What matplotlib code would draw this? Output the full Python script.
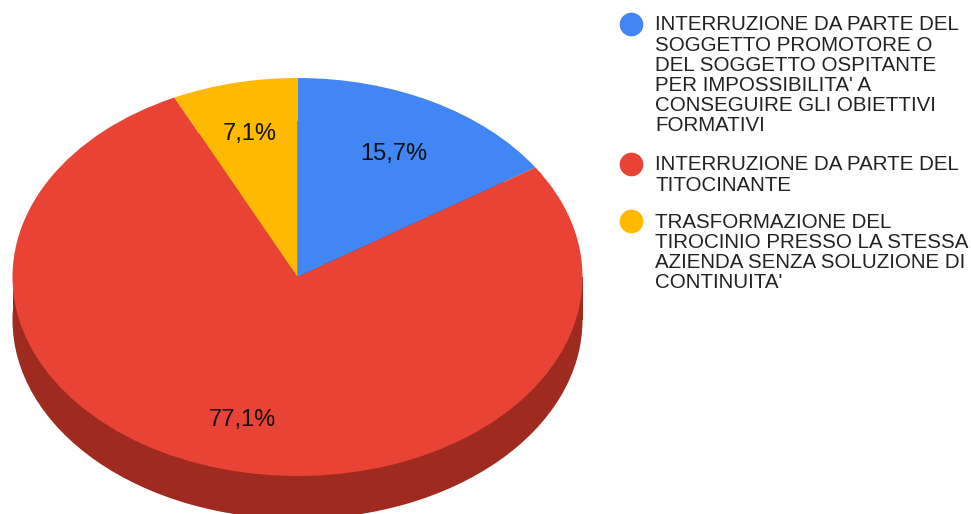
import matplotlib
matplotlib.use("Agg")
import matplotlib.pyplot as plt
from matplotlib.patches import Rectangle

plt.rcParams['font.family'] = ['Liberation Sans', 'DejaVu Sans']

values = [15.7, 77.1, 7.1]
pct_labels = ["15,7%", "77,1%", "7,1%"]
legend_labels = [
    "INTERRUZIONE DA PARTE DEL\nSOGGETTO PROMOTORE O\nDEL SOGGETTO OSPITANTE\nPER IMPOSSIBILITA' A\nCONSEGUIRE GLI OBIETTIVI\nFORMATIVI",
    "INTERRUZIONE DA PARTE DEL\nTITOCINANTE",
    "TRASFORMAZIONE DEL\nTIROCINIO PRESSO LA STESSA\nAZIENDA SENZA SOLUZIONE DI\nCONTINUITA'",
]
colors = ["#4285F4", "#E94335", "#FFB900"]
side_color = "#9E2A20"

W, H = 971, 514
fig = plt.figure(figsize=(W / 100, H / 100), dpi=100, facecolor="white")

# pie ellipse in pixels: x 12.5-582.5, y 78-476
left, right, top, bottom = 12.5, 582.5, 78, 476
depth = 43 / ((bottom - top) / 2)
ax = fig.add_axes([left / W, 1 - bottom / H, (right - left) / W, (bottom - top) / H])

# 3D side: dark ellipse lower down plus a band up to the top face
ax.pie([1], radius=1, center=(0, -depth), colors=[side_color])
ax.add_patch(Rectangle((-1, -depth), 2, depth, color=side_color, lw=0))
wedges, _ = ax.pie(values, radius=1, startangle=90, counterclock=False, colors=colors)
ax.set_aspect("auto")
ax.set_xlim(-1, 1)
ax.set_ylim(-1, 1)
for p in ax.patches:
    p.set_clip_on(False)

# overlay in pixel coordinates for text and legend
ov = fig.add_axes([0, 0, 1, 1])
ov.set_xlim(0, W)
ov.set_ylim(H, 0)
ov.axis("off")
ov.patch.set_alpha(0)

label_x = [394, 242, 250]
label_y = [154, 420, 134]
for x, y, s in zip(label_x, label_y, pct_labels):
    ov.text(x, y, s, fontsize=17, color="#111111", ha="center", va="center")

marker_y = [24, 164, 221]
for y, s, c in zip(marker_y, legend_labels, colors):
    ov.scatter([630.5], [y], s=290, color=c, lw=0)
    ov.text(655, y - 8.5, s, fontsize=14.8, color="#222222", ha="left", va="top",
            linespacing=1.07)

fig.savefig("out.png", dpi=100)
